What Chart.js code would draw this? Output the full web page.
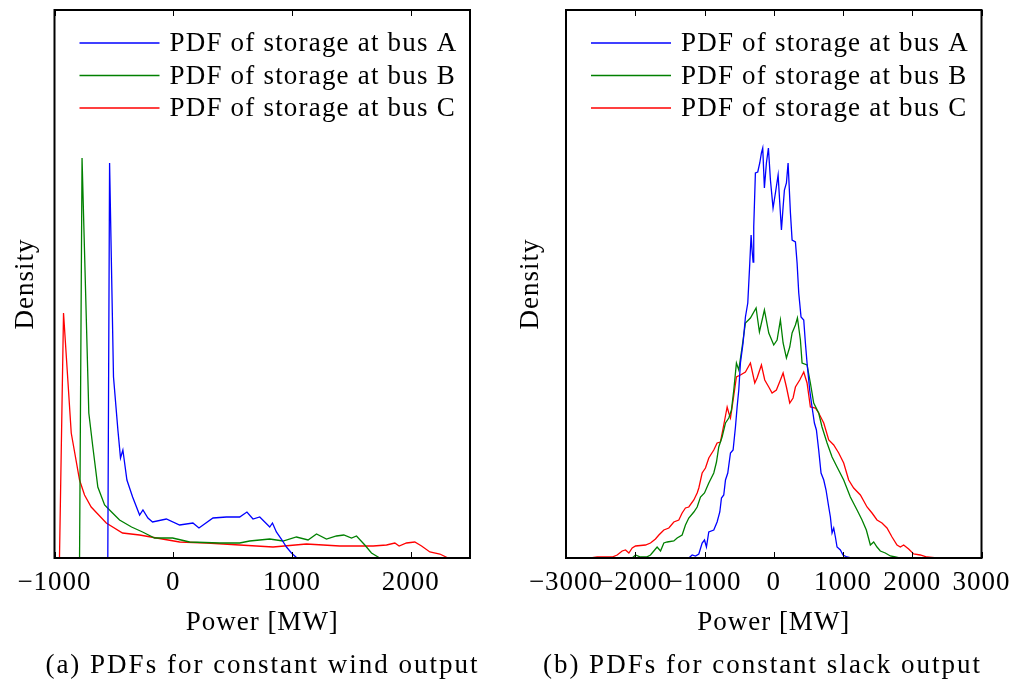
<!DOCTYPE html>
<html>
<head>
<meta charset="utf-8">
<script src="https://cdn.jsdelivr.net/npm/chart.js@4/dist/chart.umd.min.js"></script>
<style>
  body { margin: 0; background: #fff; }
  #wrap { position: relative; width: 1010px; height: 679px; background: #fff; overflow: hidden; }
  .panel { position: absolute; top: 0; height: 679px; }
  .cap { position: absolute; top: 646px; width: 505px; text-align: center; letter-spacing: 2px;
         font-family: "Liberation Serif", serif; font-size: 27px; line-height: 36px; color: #000; }
</style>
</head>
<body>
<div id="wrap">
  <div class="panel" style="left:0;width:505px"><canvas id="left"></canvas></div>
  <div class="panel" style="left:505px;width:505px"><canvas id="right"></canvas></div>
  <div class="cap" style="left:10px">(a) PDFs for constant wind output</div>
  <div class="cap" style="left:510px">(b) PDFs for constant slack output</div>
</div>
<script>
// series names + colours
const seriesNames = ['PDF of storage at bus A', 'PDF of storage at bus B', 'PDF of storage at bus C'];
const seriesColors = ['#0000ff', '#008000', '#ff0000'];

// (a) constant wind output -- power [MW] and density (arbitrary units)
const windAx = [-551, -536, -503, -466, -444, -424, -390, -342, -283, -255, -213, -174, -58, 54, 166, 217, 335, 448, 560, 621, 672, 729, 771, 813, 836, 869, 911, 954, 996, 1043];
const windAy = [0, 395, 181, 128, 100, 108, 78, 61, 43, 48, 40, 36, 39, 33, 35, 30, 40, 41, 41, 46, 39, 41, 36, 31, 35, 26, 19, 11, 5, 0];
const windBx = [-789, -768, -711, -677, -635, -578, -511, -452, -351, -258, -157, -5, 138, 391, 560, 644, 813, 925, 1038, 1136, 1207, 1291, 1375, 1437, 1502, 1544, 1614, 1670, 1740];
const windBy = [0, 400, 145, 111, 71, 53, 45, 38, 31, 26, 20, 20, 16, 15, 15, 17, 19, 17, 21, 18, 24, 19, 22, 23, 20, 22, 13, 5, 0];
const windCx = [-958, -924, -859, -789, -747, -691, -564, -427, -283, -140, 54, 282, 560, 841, 1122, 1403, 1684, 1797, 1867, 1903, 1965, 2035, 2092, 2162, 2246, 2316];
const windCy = [0, 245, 125, 78, 63, 51, 35, 25, 23, 20, 16, 15, 13, 11, 14, 12, 12, 13, 15, 12, 15, 16, 12, 6, 4, 0];

// (b) constant slack output
const slackAx = [-1227, -1178, -1130, -1082, -1034, -1000, -972, -938, -866, -818, -779, -755, -722, -697, -664, -625, -587, -553, -529, -505, -481, -443, -409, -375, -346, -327, -313, -298, -289, -265, -231, -202, -178, -159, -135, -106, -77, -48, -10, 24, 63, 87, 111, 135, 154, 183, 207, 241, 265, 313, 337, 361, 394, 433, 457, 481, 519, 553, 587, 616, 649, 683, 722, 755, 794, 818, 842, 866, 890, 914, 962, 1000, 1058, 1116];
const slackAy = [0, 3, 2, 4, 15, 18, 11, 26, 28, 36, 46, 60, 63, 78, 85, 105, 108, 131, 151, 168, 195, 215, 241, 255, 295, 323, 308, 296, 331, 385, 386, 395, 405, 410, 370, 395, 410, 378, 350, 365, 383, 355, 328, 351, 368, 375, 395, 345, 318, 316, 295, 265, 241, 238, 215, 195, 168, 151, 135, 128, 108, 85, 78, 68, 51, 41, 25, 30, 21, 11, 8, 3, 1, 0];
const slackBx = [-2044, -1996, -1924, -1837, -1780, -1732, -1684, -1635, -1587, -1539, -1443, -1395, -1323, -1275, -1227, -1154, -1106, -1058, -1000, -938, -866, -827, -794, -746, -697, -649, -611, -577, -539, -505, -457, -409, -337, -255, -207, -135, -72, 0, 48, 96, 135, 183, 231, 265, 313, 342, 385, 409, 481, 529, 577, 649, 697, 770, 842, 914, 1010, 1106, 1203, 1275, 1337, 1395, 1443, 1491, 1539, 1611, 1684, 1756, 1818];
const slackBy = [0, 3, 1, 1, 3, 7, 11, 7, 15, 16, 17, 20, 23, 33, 40, 46, 51, 61, 65, 75, 85, 96, 111, 121, 135, 140, 148, 168, 195, 188, 211, 235, 240, 250, 226, 248, 225, 213, 218, 238, 215, 200, 211, 225, 233, 240, 218, 195, 193, 175, 155, 145, 131, 115, 101, 91, 78, 61, 48, 38, 28, 13, 16, 11, 7, 5, 2, 1, 0];
const slackCx = [-2646, -2549, -2453, -2333, -2261, -2189, -2140, -2092, -2044, -1996, -1852, -1780, -1708, -1659, -1587, -1515, -1443, -1371, -1323, -1275, -1227, -1154, -1106, -1082, -1034, -986, -938, -866, -818, -770, -722, -673, -649, -625, -601, -539, -481, -409, -337, -274, -241, -178, -130, -72, -24, 38, 96, 135, 183, 231, 279, 313, 375, 433, 481, 529, 601, 649, 722, 794, 866, 938, 1010, 1082, 1154, 1251, 1347, 1419, 1491, 1563, 1635, 1708, 1780, 1828, 1876, 1948, 2020, 2116, 2213, 2357];
const slackCy = [0, 1, 1, 1, 3, 7, 8, 5, 10, 12, 13, 15, 19, 23, 28, 30, 36, 38, 45, 50, 51, 58, 65, 70, 85, 90, 100, 108, 115, 116, 133, 151, 145, 140, 151, 181, 183, 186, 195, 175, 180, 193, 178, 171, 165, 168, 178, 185, 171, 155, 160, 171, 178, 186, 175, 151, 150, 145, 135, 118, 113, 105, 95, 78, 70, 63, 51, 45, 38, 35, 30, 21, 13, 11, 13, 9, 4, 3, 1, 0];

// x tick labels
const windTicks = [-1000, 0, 1000, 2000];
const slackTicks = [-3000, -2000, -1000, 0, 1000, 2000, 3000];

const FONT = "'Liberation Serif', serif";
const FSIZE = 27;

function pts(xs, ys) {
  return xs.map((x, i) => ({ x: x, y: ys[i] }));
}

function fmt(v) {
  return v < 0 ? '\u2212' + Math.abs(v) : String(v);
}

// wider letter spacing, closer to the LaTeX font
const spacingPlugin = {
  id: 'spacing',
  beforeLayout(chart) { chart.ctx.letterSpacing = '1px'; },
  beforeDraw(chart) { chart.ctx.letterSpacing = '1px'; }
};

// box, inward tick marks and legend inside the plot
const framePlugin = {
  id: 'frame',
  afterDraw(chart) {
    const ctx = chart.ctx;
    const a = chart.chartArea;
    const xs = chart.scales.x;
    ctx.save();
    ctx.strokeStyle = '#000';
    ctx.lineWidth = 1;
    xs.ticks.forEach(t => {
      const px = Math.round(xs.getPixelForValue(t.value)) + 0.5;
      ctx.beginPath();
      ctx.moveTo(px, a.bottom); ctx.lineTo(px, a.bottom - 6);
      ctx.moveTo(px, a.top); ctx.lineTo(px, a.top + 6);
      ctx.stroke();
    });
    ctx.lineWidth = 2;
    ctx.strokeRect(a.left, a.top, a.right - a.left, a.bottom - a.top);

    ctx.font = FSIZE + 'px ' + FONT;
    ctx.letterSpacing = '1.2px';
    ctx.textBaseline = 'middle';
    ctx.fillStyle = '#000';
    chart.data.datasets.forEach((ds, i) => {
      const y = a.top + 33 + i * 32.5;
      const x0 = a.left + 25;
      ctx.strokeStyle = ds.borderColor;
      ctx.lineWidth = 1.3;
      ctx.beginPath();
      ctx.moveTo(x0, y); ctx.lineTo(x0 + 80, y);
      ctx.stroke();
      ctx.fillText(ds.label, x0 + 90, y + 1);
    });
    ctx.restore();
  }
};

function makeChart(id, series, xMin, xMax, ticks, yWidth, padRight) {
  return new Chart(document.getElementById(id), {
    type: 'line',
    data: {
      datasets: series.map((s, i) => ({
        label: seriesNames[i],
        data: pts(s[0], s[1]),
        borderColor: seriesColors[i],
        borderWidth: 1.3,
        pointRadius: 0,
        tension: 0,
        fill: false
      }))
    },
    options: {
      responsive: false,
      animation: false,
      events: [],
      layout: { padding: { top: 10, right: padRight, bottom: 40, left: 0 } },
      scales: {
        x: {
          type: 'linear',
          min: xMin,
          max: xMax,
          afterBuildTicks: axis => { axis.ticks = ticks.map(v => ({ value: v })); },
          afterFit: axis => { axis.height = 81; axis.paddingLeft = 0; axis.paddingRight = 0; },
          grid: { display: false, drawTicks: false },
          border: { display: false },
          ticks: {
            autoSkip: false,
            maxRotation: 0,
            padding: 9,
            color: '#000',
            font: { family: FONT, size: FSIZE },
            callback: v => fmt(v)
          },
          title: {
            display: true,
            text: 'Power [MW]',
            color: '#000',
            font: { family: FONT, size: FSIZE },
            padding: { top: 0, bottom: 0 }
          }
        },
        y: {
          min: 0,
          max: 548,
          afterFit: axis => { axis.width = yWidth; },
          grid: { display: false, drawTicks: false },
          border: { display: false },
          ticks: { display: false },
          title: {
            display: true,
            text: 'Density',
            color: '#000',
            font: { family: FONT, size: FSIZE },
            padding: { top: 10, bottom: 0 }
          }
        }
      },
      plugins: {
        legend: { display: false },
        tooltip: { enabled: false }
      }
    },
    plugins: [spacingPlugin, framePlugin]
  });
}

document.getElementById('left').width = 505;
document.getElementById('left').height = 679;
document.getElementById('right').width = 505;
document.getElementById('right').height = 679;

makeChart('left', [[windAx, windAy], [windBx, windBy], [windCx, windCy]], -1000, 2500, windTicks, 54.5, 35);
makeChart('right', [[slackAx, slackAy], [slackBx, slackBy], [slackCx, slackCy]], -3000, 3000, slackTicks, 61, 28.5);
</script>
</body>
</html>
